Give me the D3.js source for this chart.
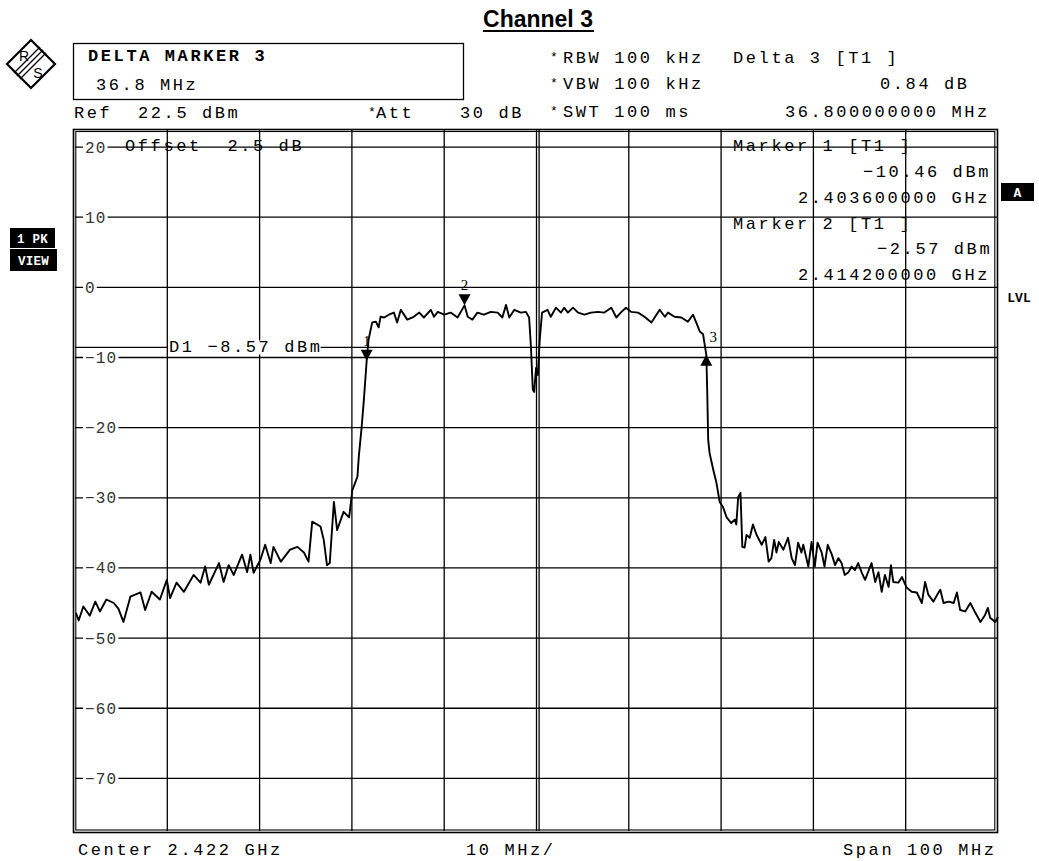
<!DOCTYPE html>
<html><head><meta charset="utf-8">
<script src="https://cdn.jsdelivr.net/npm/d3@7"></script>
<style>body{margin:0;background:#fff} svg{display:block} text{white-space:pre}</style>
</head><body><svg id="c" width="1039" height="861"></svg>
<script>
// ---- data ----
const startMHz = 2372, stopMHz = 2472;
const refLevel = 22.5, bottomLevel = -77.5;
const levelTicks = [20, 10, 0, -10, -20, -30, -40, -50, -60, -70];
const freqGridMHz = [2372, 2382, 2392, 2402, 2412, 2422, 2432, 2442, 2452, 2462, 2472];
const displayLineLevel = -8.57;
const traceOffsetMHz = [0.1,0.4,0.9,1.6,2.2,2.7,3.4,4.2,4.7,5.25,6.0,7.1,7.6,8.3,9.2,9.95,10.3,11.0,11.8,12.85,13.6,14.1,14.5,15.6,16.1,16.65,17.2,18.1,18.65,19.0,19.35,20.1,20.6,21.2,21.5,22.3,23.3,24.1,24.8,25.3,25.7,26.6,26.95,27.3,27.6,28.05,28.4,29.1,29.7,30.05,30.6,30.75,31.05,31.3,31.6,31.8,32.2,32.6,32.9,33.1,33.5,34.0,34.55,34.9,35.3,36.0,36.7,37.3,37.8,38.55,38.9,39.3,40.0,40.7,41.45,42.2,42.55,43.05,43.6,44.3,45.05,45.8,46.3,46.7,47.05,47.6,48.3,48.85,49.2,49.4,49.6,49.75,49.95,50.15,50.35,50.6,51.2,51.55,52.1,52.65,53.0,53.4,53.95,54.5,55.2,55.9,56.65,57.35,58.1,58.65,59.2,59.7,60.25,61.0,61.7,62.45,63.35,63.9,64.25,64.95,65.7,66.4,66.95,67.3,67.7,68.05,68.2,68.4,68.5,68.6,68.75,69.15,69.5,69.85,70.2,70.6,71.1,71.5,71.65,71.85,72.1,72.3,72.55,72.75,73.1,73.45,73.85,74.4,74.8,75.15,75.45,75.75,76.0,76.25,76.75,77.25,77.65,78.0,78.35,78.7,78.9,79.45,79.8,80.15,80.45,80.9,81.2,81.55,82.0,82.35,82.7,83.05,83.4,83.8,84.15,84.5,84.85,85.25,85.6,86.3,86.7,87.05,87.4,87.75,88.15,88.4,88.65,89.2,89.6,90.1,90.65,91.2,91.75,92.1,92.45,93.0,93.55,93.75,94.1,94.65,95.2,95.55,95.9,96.45,97.0,97.55,98.1,98.6,98.9,99.15,99.7,100];
const traceLevel = [-46.4,-47.5,-45.5,-46.8,-44.8,-46.2,-44.5,-45.0,-45.8,-47.7,-44.1,-43.5,-46.0,-43.4,-44.5,-41.7,-44.3,-42.1,-43.4,-41.0,-42.1,-39.8,-42.4,-39.3,-42.0,-39.6,-41.0,-38.1,-40.6,-38.1,-40.7,-38.8,-36.7,-39.3,-37.0,-39.1,-37.4,-37.0,-37.8,-39.1,-33.4,-34.1,-36.0,-39.6,-39.3,-30.6,-34.6,-32.0,-32.8,-28.9,-27.0,-24.1,-20.0,-16.0,-10.46,-7.5,-5.0,-4.9,-5.7,-4.2,-4.3,-3.9,-3.6,-5.0,-3.2,-4.6,-4.2,-3.6,-4.3,-3.2,-4.2,-3.5,-3.9,-3.6,-4.3,-2.57,-4.2,-4.6,-3.6,-3.9,-3.5,-3.6,-4.3,-2.5,-4.3,-3.2,-3.6,-3.5,-4.3,-8.5,-14.6,-14.9,-11.5,-12.5,-7.5,-3.6,-3.2,-4.2,-2.9,-3.6,-2.9,-3.6,-2.9,-3.6,-3.9,-3.6,-3.5,-3.6,-2.9,-4.3,-3.5,-2.9,-3.5,-3.6,-4.2,-5.0,-3.2,-4.2,-3.6,-4.2,-4.3,-4.9,-3.9,-5.0,-6.3,-6.7,-8.0,-9.62,-15.0,-21.7,-23.6,-26.0,-27.9,-30.6,-31.3,-32.8,-33.6,-33.1,-33.8,-29.9,-29.3,-37.0,-37.1,-35.3,-35.7,-33.8,-35.3,-36.7,-35.6,-39.1,-38.6,-36.0,-37.8,-36.3,-37.4,-35.7,-38.6,-39.6,-36.4,-37.8,-36.7,-39.8,-36.3,-39.8,-36.4,-37.8,-39.8,-36.7,-38.1,-39.6,-38.6,-39.3,-41.0,-40.6,-39.8,-40.3,-39.3,-40.7,-41.7,-39.3,-42.0,-40.6,-43.4,-41.0,-42.7,-39.6,-42.0,-42.1,-41.3,-42.8,-43.4,-43.5,-45.0,-42.0,-43.8,-44.8,-43.5,-43.1,-45.0,-44.8,-45.0,-43.5,-46.0,-46.2,-45.0,-46.4,-47.7,-46.7,-45.7,-47.1,-47.7,-47.0];
const markerNames = ["1", "2", "3"];
const markerFreqGHz = [2.4036, 2.4142, 2.4404];
const markerLevel = [-10.46, -2.57, -9.62];
const markerDir = ["down", "down", "up"];

// ---- drawing ----
const svg = d3.select("#c");
const x = d3.scaleLinear().domain([startMHz, stopMHz]).range([75, 998]);
const y = d3.scaleLinear().domain([bottomLevel, refLevel]).range([831, 129.5]);
const MONO = "'Liberation Mono', 'DejaVu Sans Mono', monospace";
const SERIF = "'Liberation Serif', serif";

function txt(s, px, py, o = {}) {
  return svg.append("text").attr("x", px).attr("y", py).text(s)
    .attr("font-family", o.family || MONO).attr("font-size", o.size || 17)
    .attr("letter-spacing", o.ls !== undefined ? o.ls : 2.6)
    .attr("font-weight", o.bold ? "bold" : "normal")
    .attr("fill", o.fill || "#000")
    .attr("text-anchor", o.anchor || "start");
}
function whiteBehind(t, padL, padR, top, h) {
  const w = t.node().getComputedTextLength();
  const x0 = +t.attr("x");
  svg.insert("rect", function () { return t.node(); })
    .attr("x", x0 - padL).attr("y", top).attr("width", w + padL + padR).attr("height", h).attr("fill", "#fff");
}

// title
txt("Channel 3", 538, 27, {family: "'Liberation Sans', Arial, sans-serif", size: 23, ls: 0, bold: true, anchor: "middle"});
svg.append("line").attr("x1", 483).attr("x2", 594).attr("y1", 31).attr("y2", 31).attr("stroke", "#000").attr("stroke-width", 2);

// R&S logo
const lg = svg.append("g").attr("transform", "translate(31,64)");
lg.append("path").attr("d", "M0,-24 L24,0 L0,24 L-24,0 Z").attr("fill", "none").attr("stroke", "#000").attr("stroke-width", 2.2);
[-3, 0, 3].forEach(o => lg.append("line").attr("x1", -14 + o).attr("y1", 12 + o).attr("x2", 12 + o).attr("y2", -14 + o).attr("stroke", "#000").attr("stroke-width", 1.3));
lg.append("text").attr("x", -7).attr("y", -3).text("R").attr("font-family", "'Liberation Sans', sans-serif").attr("font-size", 14).attr("text-anchor", "middle");
lg.append("text").attr("x", 7).attr("y", 14).text("S").attr("font-family", "'Liberation Sans', sans-serif").attr("font-size", 14).attr("text-anchor", "middle");

// header box
svg.append("rect").attr("x", 73.5).attr("y", 43.5).attr("width", 390).attr("height", 56).attr("fill", "none").attr("stroke", "#000").attr("stroke-width", 1.3);
txt("DELTA MARKER 3", 88, 61, {bold: true});
txt("36.8 MHz", 96, 90);
txt("Ref  22.5 dBm", 74, 118);
txt("*", 368, 116, {size: 13, ls: 0}); txt("Att", 376, 118); txt("30 dB", 460, 118);
[["RBW 100 kHz", 63], ["VBW 100 kHz", 89], ["SWT 100 ms", 117]].forEach(([s, yy]) => {
  txt("*", 550, yy - 2, {size: 13, ls: 0});
  txt(s, 563, yy);
});
txt("Delta 3 [T1 ]", 733, 63);
txt("0.84 dB", 880, 89);
txt("36.800000000 MHz", 785, 117);

// side labels
function badge(s, bx, by, bw, bh, fs) {
  svg.append("rect").attr("x", bx).attr("y", by).attr("width", bw).attr("height", bh).attr("fill", "#000");
  txt(s, bx + bw / 2, by + bh / 2 + fs * 0.36, {size: fs, ls: 0.3, bold: true, fill: "#fff", anchor: "middle"});
}
badge("1 PK", 10, 228, 45, 20, 12.5);
badge("VIEW", 10, 249, 47, 22, 12.5);
badge("A", 1001, 183, 33, 18, 13);
txt("LVL", 1019, 302, {size: 13, ls: 0, bold: true, anchor: "middle"});

// grid
const grid = svg.append("g").attr("stroke", "#000").attr("stroke-width", 1.3);
levelTicks.forEach(v => grid.append("line").attr("x1", x(startMHz)).attr("x2", x(stopMHz)).attr("y1", y(v)).attr("y2", y(v)));
freqGridMHz.slice(1, -1).forEach(f => grid.append("line").attr("x1", x(f)).attr("x2", x(f)).attr("y1", y(refLevel)).attr("y2", y(bottomLevel)));
const cx = x((startMHz + stopMHz) / 2);
grid.append("line").attr("x1", cx + 2.6).attr("x2", cx + 2.6).attr("y1", y(refLevel)).attr("y2", y(bottomLevel));
// display line D1
grid.append("line").attr("x1", x(startMHz)).attr("x2", x(stopMHz)).attr("y1", y(displayLineLevel)).attr("y2", y(displayLineLevel));

// frame (double)
svg.append("rect").attr("x", 73.5).attr("y", 129.5).attr("width", 924).attr("height", 703).attr("fill", "none").attr("stroke", "#000").attr("stroke-width", 1.6);
svg.append("rect").attr("x", 75.8).attr("y", 131.5).attr("width", 919).attr("height", 698.5).attr("fill", "none").attr("stroke", "#000").attr("stroke-width", 1.1);

// level labels with white background
levelTicks.forEach(v => {
  const s = v < 0 ? "\u2212" + Math.abs(v) : String(v);
  const t = txt(s, 85, y(v) + 5.5, {size: 16, ls: 1.2, fill: "#333"});
  whiteBehind(t, 2, 1, y(v) - 7, 14);
});

// annotations in plot
txt("Offset  2.5 dB", 125, 151);
const d1 = txt("D1 \u22128.57 dBm", 169, y(displayLineLevel) + 5);
whiteBehind(d1, 1, -2, y(displayLineLevel) - 7, 14);
txt("Marker 1 [T1 ]", 733, 151);
txt("\u221210.46 dBm", 863, 177);
txt("2.403600000 GHz", 798, 203);
txt("Marker 2 [T1 ]", 733, 229);
txt("\u22122.57 dBm", 877, 254);
txt("2.414200000 GHz", 798, 280);

// trace
const pts = traceOffsetMHz.map((o, i) => [startMHz + o, traceLevel[i]]);
svg.append("path").datum(pts)
  .attr("d", d3.line().x(d => x(d[0])).y(d => y(d[1])))
  .attr("fill", "none").attr("stroke", "#000").attr("stroke-width", 1.9).attr("stroke-linejoin", "round");

// markers
markerNames.forEach((n, i) => {
  const mx = x(markerFreqGHz[i] * 1000), my = y(markerLevel[i]);
  const d = markerDir[i] === "down"
    ? `M${mx},${my} L${mx - 6},${my - 11} L${mx + 6},${my - 11} Z`
    : `M${mx},${my} L${mx - 6},${my + 11} L${mx + 6},${my + 11} Z`;
  svg.append("path").attr("d", d).attr("fill", "#000");
  if (markerDir[i] === "down") txt(n, mx, my - 15, {size: 15, ls: 0, anchor: "middle", family: SERIF});
  else txt(n, mx + 7, my - 13, {size: 15, ls: 0, anchor: "middle", family: SERIF});
});

// bottom labels
txt("Center 2.422 GHz", 78, 855);
txt("10 MHz/", 466, 855);
txt("Span 100 MHz", 843, 855);
</script>
</body></html>
